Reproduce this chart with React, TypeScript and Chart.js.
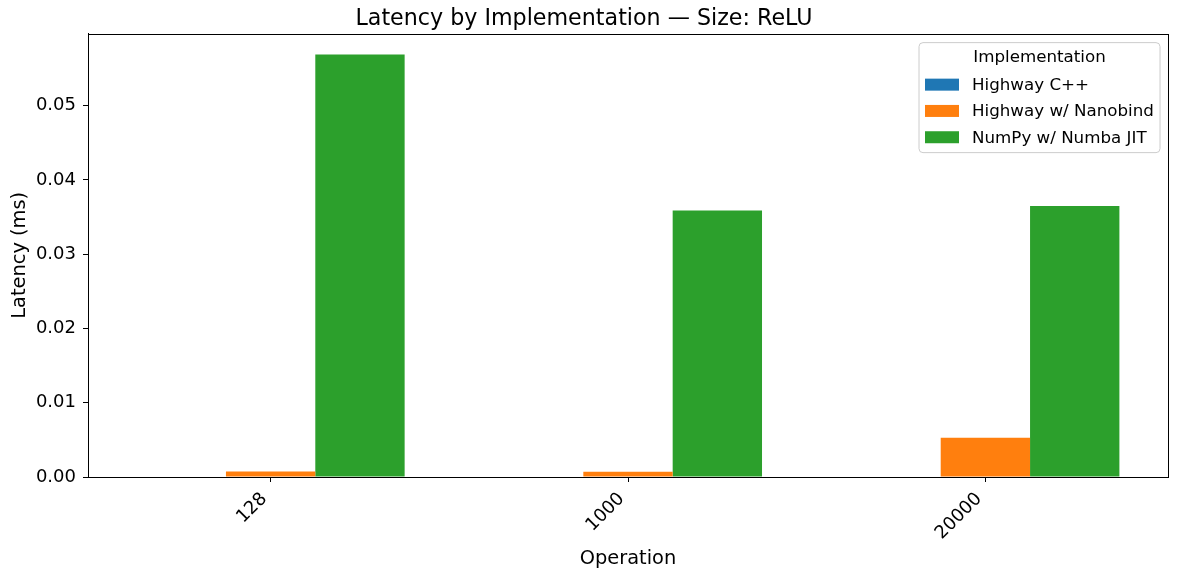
import React, { useEffect, useRef } from "react";
import { Chart, registerables } from "chart.js";
Chart.register(...registerables);

const categories = ["128", "1000", "20000"];
const seriesNames = ["Highway C++", "Highway w/ Nanobind", "NumPy w/ Numba JIT"];
const highwayCpp = [0, 0, 0];
const highwayNanobind = [0.00074, 0.00072, 0.0053];
const numpyNumba = [0.0569, 0.0359, 0.0365];
const seriesColors = ["#1f77b4", "#ff7f0e", "#2ca02c"];
const yTickValues = [0, 0.01, 0.02, 0.03, 0.04, 0.05];
const yMax = 0.0597;
const titleText = "Latency by Implementation — Size: ReLU";
const legendTitle = "Implementation";
const xLabel = "Operation";
const yLabel = "Latency (ms)";

const FONT = "'DejaVu Sans', sans-serif";

const framePlugin = {
  id: "frame",
  afterDraw(chart: any) {
    const { ctx, chartArea } = chart;
    ctx.save();
    ctx.strokeStyle = "#000";
    ctx.lineWidth = 1;
    ctx.strokeRect(
      Math.round(chartArea.left) + 0.5,
      Math.round(chartArea.top) + 0.5,
      Math.round(chartArea.right - chartArea.left),
      Math.round(chartArea.bottom - chartArea.top)
    );
    ctx.restore();
  },
};

const legendPlugin = {
  id: "mplLegend",
  afterDraw(chart: any) {
    const { ctx, chartArea } = chart;
    const fs = 16.7;
    const boxRight = chartArea.right - 8;
    const boxTop = chartArea.top + 9;
    const boxW = 241;
    const boxH = 110;
    const boxLeft = boxRight - boxW;
    ctx.save();
    const r = 4;
    ctx.beginPath();
    ctx.moveTo(boxLeft + r, boxTop);
    ctx.lineTo(boxRight - r, boxTop);
    ctx.quadraticCurveTo(boxRight, boxTop, boxRight, boxTop + r);
    ctx.lineTo(boxRight, boxTop + boxH - r);
    ctx.quadraticCurveTo(boxRight, boxTop + boxH, boxRight - r, boxTop + boxH);
    ctx.lineTo(boxLeft + r, boxTop + boxH);
    ctx.quadraticCurveTo(boxLeft, boxTop + boxH, boxLeft, boxTop + boxH - r);
    ctx.lineTo(boxLeft, boxTop + r);
    ctx.quadraticCurveTo(boxLeft, boxTop, boxLeft + r, boxTop);
    ctx.closePath();
    ctx.fillStyle = "rgba(255,255,255,0.8)";
    ctx.fill();
    ctx.strokeStyle = "#cccccc";
    ctx.lineWidth = 1;
    ctx.stroke();

    ctx.fillStyle = "#000";
    ctx.font = `${fs}px ${FONT}`;
    ctx.textBaseline = "middle";
    ctx.textAlign = "center";
    ctx.fillText(legendTitle, boxLeft + boxW / 2, boxTop + 15.5);

    ctx.textAlign = "left";
    chart.data.datasets.forEach((ds: any, i: number) => {
      const cy = boxTop + 42 + i * 26.3;
      ctx.fillStyle = ds.backgroundColor;
      ctx.fillRect(boxLeft + 6, cy - 6, 34, 12);
      ctx.fillStyle = "#000";
      ctx.fillText(ds.label, boxLeft + 53, cy + 1);
    });
    ctx.restore();
  },
};

export default function App() {
  const ref = useRef<HTMLCanvasElement | null>(null);
  useEffect(() => {
    if (!ref.current) return;
    const seriesValues = [highwayCpp, highwayNanobind, numpyNumba];
    const chart = new Chart(ref.current, {
      type: "bar",
      data: {
        datasets: seriesNames.map((name, si) => ({
          label: name,
          data: categories.map((_, ci) => ({ x: ci, y: seriesValues[si][ci] })),
          backgroundColor: seriesColors[si],
          borderWidth: 0,
          categoryPercentage: 0.75,
          barPercentage: 1.0,
        })),
      },
      options: {
        animation: false,
        responsive: false,
        devicePixelRatio: 1,
        layout: { padding: { left: 0, right: 10, top: 0, bottom: 0 } },
        plugins: {
          legend: { display: false },
          tooltip: { enabled: false },
          title: {
            display: true,
            text: titleText,
            color: "#000",
            font: { family: FONT, size: 22.2, weight: "normal", lineHeight: 1.2 },
            padding: { top: 6, bottom: 1 },
          },
        },
        scales: {
          x: {
            type: "linear",
            min: -0.511,
            max: 2.511,
            offset: false,
            afterBuildTicks: (scale: any) => {
              scale.ticks = categories.map((_, i) => ({ value: i }));
            },
            afterFit: (scale: any) => {
              scale.height = 101;
            },
            ticks: {
              autoSkip: false,
              maxRotation: 45,
              minRotation: 45,
              padding: 0,
              color: "#000",
              font: { family: FONT, size: 18 },
              callback: (v: any) => (categories[Math.round(Number(v))] ?? "") + "\u2002",
            },
            grid: {
              offset: false,
              drawOnChartArea: false,
              drawTicks: true,
              tickLength: 5,
              color: "#000",
            },
            border: { display: true, color: "#000", width: 1 },
            title: {
              display: true,
              text: xLabel,
              color: "#000",
              font: { family: FONT, size: 19.4, lineHeight: 1.2 },
              padding: { top: 4, bottom: 7 },
            },
          },
          y: {
            type: "linear",
            min: 0,
            max: yMax,
            afterBuildTicks: (scale: any) => {
              scale.ticks = yTickValues.map((v) => ({ value: v }));
            },
            afterFit: (scale: any) => {
              scale.width = 88;
            },
            ticks: {
              padding: 7,
              color: "#000",
              font: { family: FONT, size: 18 },
              callback: (v: any) => Number(v).toFixed(2),
            },
            grid: {
              drawOnChartArea: false,
              drawTicks: true,
              tickLength: 5,
              color: "#000",
            },
            border: { display: true, color: "#000", width: 1 },
            title: {
              display: true,
              text: yLabel,
              color: "#000",
              font: { family: FONT, size: 19.4, lineHeight: 1.2 },
              padding: { top: 8, bottom: 4 },
            },
          },
        },
      },
      plugins: [framePlugin, legendPlugin],
    } as any);
    return () => chart.destroy();
  }, []);
  return (
    <div style={{ position: "fixed", left: 0, top: 0, width: 1178, height: 578, background: "#fff" }}>
      <canvas ref={ref} width={1178} height={578} style={{ display: "block", width: 1178, height: 578 }} />
    </div>
  );
}
